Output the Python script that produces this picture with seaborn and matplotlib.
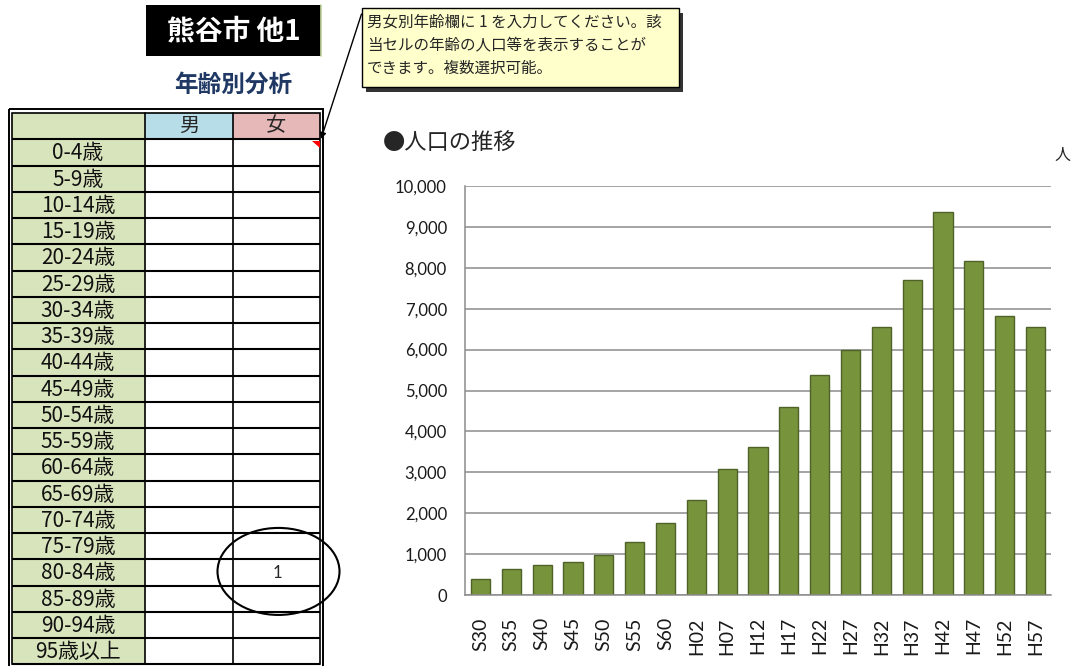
import matplotlib
matplotlib.use("Agg")
import matplotlib.pyplot as plt
import seaborn as sns
import pandas as pd
from matplotlib.patches import Rectangle, Ellipse, Polygon
from matplotlib.ticker import FuncFormatter, FixedLocator, NullFormatter

# ---------------- data ----------------
periods = ["S30", "S35", "S40", "S45", "S50", "S55", "S60", "H02", "H07", "H12",
           "H17", "H22", "H27", "H32", "H37", "H42", "H47", "H52", "H57"]
population = [380, 635, 732, 806, 985, 1294, 1758, 2319, 3092, 3621,
              4605, 5378, 5981, 6542, 7705, 9357, 8169, 6827, 6542]
y_ticks = [0, 1000, 2000, 3000, 4000, 5000, 6000, 7000, 8000, 9000, 10000]

age_groups = ["0-4歳", "5-9歳", "10-14歳", "15-19歳", "20-24歳", "25-29歳", "30-34歳",
              "35-39歳", "40-44歳", "45-49歳", "50-54歳", "55-59歳", "60-64歳", "65-69歳",
              "70-74歳", "75-79歳", "80-84歳", "85-89歳", "90-94歳", "95歳以上"]
sex_headers = ["男", "女"]
male_input = [""] * 20
female_input = [""] * 16 + ["1"] + [""] * 3

title_text = "熊谷市 他1"
subtitle_text = "年齢別分析"
note_lines = ["男女別年齢欄に 1 を入力してください。該",
              "当セルの年齢の人口等を表示することが",
              "できます。複数選択可能。"]
chart_title = "●人口の推移"
unit_label = "人"

# ---------------- style ----------------
sns.set_style("white")
plt.rcParams["font.family"] = ["Noto Sans CJK JP", "DejaVu Sans"]

W, H = 1077, 666
fig = plt.figure(figsize=(W / 100, H / 100), dpi=100)
fig.patch.set_facecolor("white")

# overlay in pixel coordinates for the sheet elements
ov = fig.add_axes([0, 0, 1, 1])
ov.set_xlim(0, W)
ov.set_ylim(H, 0)
ov.axis("off")
ov.patch.set_alpha(0)

# ---- black title box ----
ov.add_patch(Rectangle((146, 5), 175, 51, facecolor="black", edgecolor="none"))
ov.plot([321, 321], [5, 56], color="#C4D79B", lw=1.2)
ov.text(234, 31, title_text, color="white", fontsize=20, fontweight="bold",
        ha="center", va="center")

# ---- subtitle ----
ov.text(233, 85, subtitle_text, color="#1F3864", fontsize=17, fontweight="bold",
        ha="center", va="center")

# ---- table ----
x_left, x_c1, x_c2, x_right = 12, 145, 233, 320
y_head_top = 112.5
y_data_top = 139.3
row_h = 26.25
n_rows = len(age_groups)
y_bottom = y_data_top + n_rows * row_h

# fills
ov.add_patch(Rectangle((x_left, y_head_top), x_c1 - x_left, y_bottom - y_head_top,
                       facecolor="#D8E4BC", edgecolor="none"))
ov.add_patch(Rectangle((x_c1, y_head_top), x_c2 - x_c1, y_data_top - y_head_top,
                       facecolor="#B7DEE8", edgecolor="none"))
ov.add_patch(Rectangle((x_c2, y_head_top), x_right - x_c2, y_data_top - y_head_top,
                       facecolor="#E6B8B7", edgecolor="none"))

# horizontal lines
for i in range(n_rows + 1):
    yy = y_data_top + i * row_h
    ov.plot([x_left, x_right], [yy, yy], color="black", lw=1.5, solid_capstyle="butt")
# vertical lines
for xx in (x_c1, x_c2):
    ov.plot([xx, xx], [y_head_top, y_bottom], color="black", lw=1.2)
# double outer border
ov.add_patch(Rectangle((9.3, 108.5), 323 - 9.3, y_bottom + 3 - 108.5,
                       facecolor="none", edgecolor="black", lw=1.4))
ov.add_patch(Rectangle((x_left, y_head_top), x_right - x_left, y_bottom - y_head_top,
                       facecolor="none", edgecolor="black", lw=1.2))

# header text
ov.text((x_c1 + x_c2) / 2, 126, sex_headers[0], fontsize=14.5, ha="center", va="center")
ov.text((x_c2 + x_right) / 2, 126, sex_headers[1], fontsize=14.5, ha="center", va="center")

for i, lab in enumerate(age_groups):
    yc = y_data_top + (i + 0.5) * row_h + 1
    ov.text(78, yc, lab, fontsize=15, ha="center", va="center", color="#111111")
    if male_input[i]:
        ov.text((x_c1 + x_c2) / 2, yc, male_input[i], fontsize=12, ha="center", va="center")
    if female_input[i]:
        ov.text((x_c2 + x_right) / 2 + 1, yc, female_input[i], fontsize=12,
                ha="center", va="center", family="Lato")
        ov.add_patch(Ellipse(((x_c2 + x_right) / 2 + 2, yc - 2), 122, 87,
                             facecolor="none", edgecolor="black", lw=1.5))

# red comment marker
ov.add_patch(Polygon([(312, 140.5), (320, 140.5), (320, 147.5)], closed=True,
                     facecolor="red", edgecolor="none"))

# ---- callout note ----
ov.add_patch(Rectangle((366, 12.5), 317, 79.5, facecolor="#333333", edgecolor="none"))
ov.add_patch(Rectangle((361.7, 8.3), 317.3, 79, facecolor="#FFFFCC", edgecolor="black", lw=1))
for k, line in enumerate(note_lines):
    ov.text(367, 22.5 + k * 23, line, fontsize=11.2, ha="left", va="center")
ov.annotate("", xy=(321, 139), xytext=(361.5, 14),
            arrowprops=dict(arrowstyle="-|>", color="black", lw=1, mutation_scale=9,
                            shrinkA=0, shrinkB=0))

# ---- chart titles ----
ov.text(383, 142, chart_title, fontsize=16, ha="left", va="center")
ov.text(1062, 155, unit_label, fontsize=11.5, ha="center", va="center")

# ---------------- bar chart ----------------
ax_l, ax_r, ax_t, ax_b = 465, 1051, 186, 595
ax = fig.add_axes([ax_l / W, (H - ax_b) / H, (ax_r - ax_l) / W, (ax_b - ax_t) / H])
ax.patch.set_alpha(0)

df = pd.DataFrame({"period": periods, "population": population})
sns.barplot(data=df, x="period", y="population", color="#77933C", saturation=1,
            edgecolor="#4F6228", linewidth=1, width=0.62, ax=ax)

ax.set_xlim(-0.5, len(periods) - 0.5)
ax.set_ylim(0, 10000)
ax.set_yticks(y_ticks)
ax.yaxis.set_major_formatter(FuncFormatter(lambda v, p: f"{int(v):,}"))
ax.set_xlabel("")
ax.set_ylabel("")

ax.set_axisbelow(True)
ax.yaxis.grid(True, color="#8C8C8C", linewidth=1.1)
ax.xaxis.grid(False)
for s in ("top", "right"):
    ax.spines[s].set_visible(False)
for s in ("left", "bottom"):
    ax.spines[s].set_color("#8C8C8C")
    ax.spines[s].set_linewidth(1.1)

ax.tick_params(axis="y", which="major", length=4, width=1, color="#8C8C8C",
               pad=9, labelsize=12, labelcolor="#1A1A1A")
ax.set_xticks(range(len(periods)))
ax.set_xticklabels(periods, rotation=90)
ax.xaxis.set_minor_locator(FixedLocator([i - 0.5 for i in range(len(periods) + 1)]))
ax.xaxis.set_minor_formatter(NullFormatter())
ax.tick_params(axis="x", which="major", length=0, pad=16, labelsize=14, labelcolor="#1A1A1A")
ax.tick_params(axis="x", which="minor", length=4.5, width=1, color="#8C8C8C")
for t in ax.get_xticklabels() + ax.get_yticklabels():
    t.set_fontfamily("Lato")

fig.savefig("out.png", dpi=100, facecolor="white")
